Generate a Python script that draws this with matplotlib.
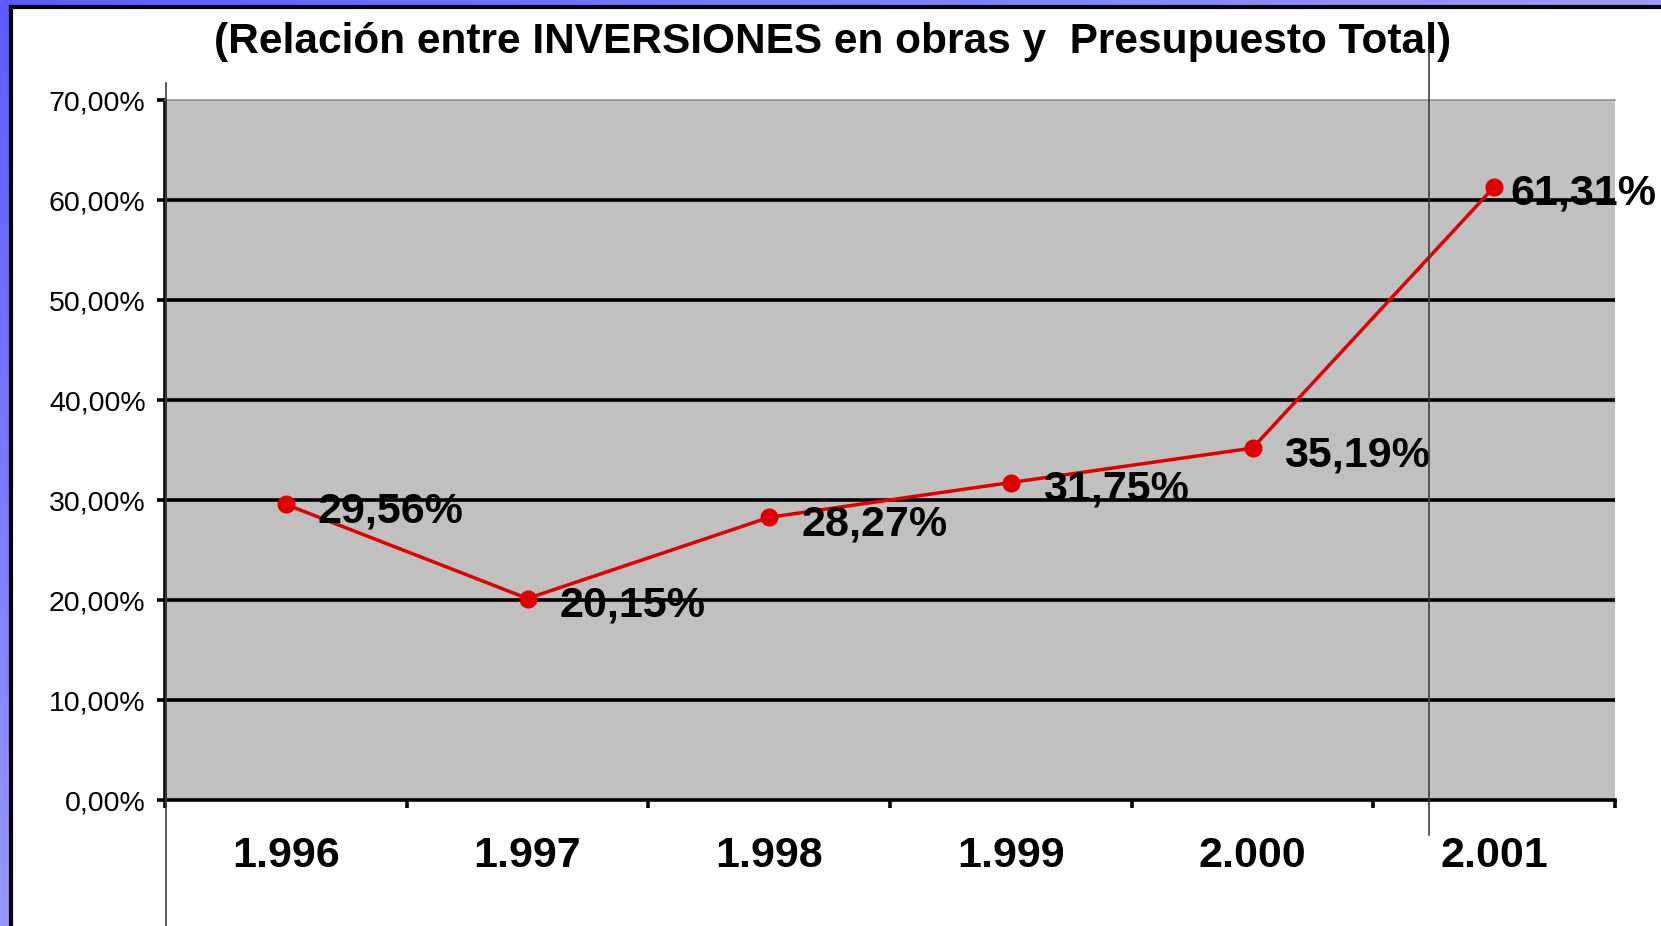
import numpy as np
import matplotlib.pyplot as plt
from matplotlib.patches import Rectangle
from matplotlib.lines import Line2D

plt.rcParams['font.family'] = ['Liberation Sans', 'DejaVu Sans']

# datos
anios = ['1.996', '1.997', '1.998', '1.999', '2.000', '2.001']
relacion = [29.56, 20.15, 28.27, 31.75, 35.19, 61.31]
yticks = [0, 10, 20, 30, 40, 50, 60, 70]

W, H = 1661, 926
fig = plt.figure(figsize=(W / 100, H / 100), dpi=100)

# fondo azul de la diapositiva (degradado)
bg = fig.add_axes([0, 0, 1, 1], zorder=-10)
yy, xx = np.mgrid[0:1:200j, 0:1:200j]
t = np.clip(0.55 * yy + 0.6 * xx, 0, 1)
c0 = np.array([0.36, 0.36, 1.0])
c1 = np.array([0.78, 0.78, 1.0])
img = c0[None, None, :] * (1 - t[..., None]) + c1[None, None, :] * t[..., None]
bg.imshow(img, aspect='auto', extent=[0, 1, 0, 1], origin='upper')
bg.set_xlim(0, 1)
bg.set_ylim(0, 1)
bg.axis('off')
# hoja blanca con borde negro
bg.add_patch(Rectangle((11 / W, -0.1), 1.2, 1.1 - 7 / H, facecolor='white',
                       edgecolor='black', linewidth=3))

# area del grafico
x0, x1, ytop, ybot = 165, 1615, 100, 800
ax = fig.add_axes([x0 / W, (H - ybot) / H, (x1 - x0) / W, (ybot - ytop) / H])
ax.set_facecolor('#c0c0c0')
x = np.arange(len(anios))
ax.set_xlim(-0.5, len(anios) - 0.5)
ax.set_ylim(0, 70)

for v in yticks[1:-1]:
    ax.axhline(v, color='black', lw=2.6, zorder=1)

ax.plot(x, relacion, color='#e00000', lw=2.5, marker='o', markersize=12,
        zorder=3)
for i, (xi, v) in enumerate(zip(x, relacion)):
    dx = 12 if i == len(relacion) - 1 else 23  # la ultima etiqueta va mas pegada
    ax.annotate(f"{v:.2f}%".replace('.', ','), (xi, v), xytext=(dx, -5),
                textcoords='offset points', ha='left', va='center',
                fontsize=31, fontweight='bold', zorder=4, annotation_clip=False)

ax.set_yticks(yticks)
ax.set_yticklabels([f"{v:.2f}%".replace('.', ',') for v in yticks], fontsize=20.5)
ax.set_xticks(x)
ax.set_xticklabels(anios, fontsize=31, fontweight='bold')
ax.set_xticks(np.arange(-0.5, len(anios)), minor=True)
ax.tick_params(axis='x', which='major', length=0, pad=26)
ax.tick_params(axis='x', which='minor', length=6, width=2.6, direction='out')
ax.tick_params(axis='y', length=6, width=2.6, pad=8)

ax.spines['left'].set_linewidth(2.6)
ax.spines['bottom'].set_linewidth(2.6)
ax.spines['top'].set_color('#909090')
ax.spines['top'].set_linewidth(1.2)
ax.spines['right'].set_visible(False)

# lineas verticales de la diapositiva
fig.add_artist(Line2D([166 / W, 166 / W], [0, 1 - 83 / H], color='#404040', lw=1.2))
fig.add_artist(Line2D([1429 / W, 1429 / W], [1 - 835 / H, 1 - 50 / H],
                      color='#404040', lw=1.2, zorder=5))

fig.text(833 / W, 1 - 42 / H,
         '(Relación entre INVERSIONES en obras y  Presupuesto Total)',
         ha='center', va='center', fontsize=30.5, fontweight='bold')

fig.savefig('out.png', dpi=100)
